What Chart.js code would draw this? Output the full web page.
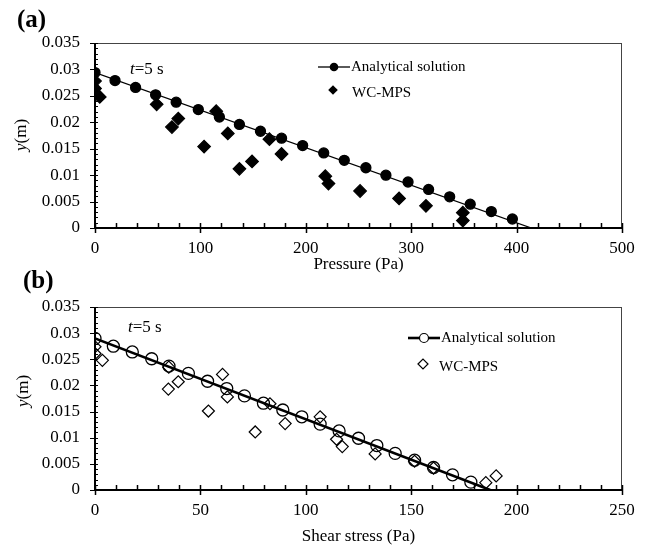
<!DOCTYPE html>
<html>
<head>
<meta charset="utf-8">
<script src="https://cdn.jsdelivr.net/npm/chart.js@4.4.1/dist/chart.umd.min.js"></script>
<style>
  body { margin: 0; background: #fff; }
  #wrap { position: relative; width: 646px; height: 549px; }
  canvas { position: absolute; left: 0; }
  #chartA { top: 0; }
  #chartB { top: 270px; }
</style>
</head>
<body>
<div id="wrap">
  <canvas id="chartA" width="646" height="290"></canvas>
  <canvas id="chartB" width="646" height="279"></canvas>
</div>
<script>
// ---- (a) presion ----
const presionAnaX = [0, 19, 38.5, 57.5, 77, 98, 118, 137, 157, 177, 197, 217, 236.5, 257, 276, 297, 316.5, 336.5, 356, 376, 396];
const presionAnaY = [0.0294, 0.0279, 0.0266, 0.0252, 0.0238, 0.0224, 0.0210, 0.0196, 0.0183, 0.0170, 0.0156, 0.0142, 0.0128, 0.0114, 0.0100, 0.0087, 0.0073, 0.0059, 0.0045, 0.0031, 0.0017];
const presionLineaX = [0, 414];
const presionLineaY = [0.0294, 0];
const presionMpsX = [0, 0, 4.5, 58.5, 73, 79, 103.5, 115, 126, 137, 149, 165.5, 177, 218.5, 221.5, 251.5, 288.5, 314, 349, 349];
const presionMpsY = [0.0278, 0.0264, 0.0248, 0.0234, 0.0191, 0.0207, 0.0154, 0.0221, 0.0179, 0.0112, 0.0126, 0.0168, 0.0140, 0.0098, 0.0084, 0.0070, 0.0056, 0.0042, 0.0029, 0.0014];
const presionTicks = ['0', '100', '200', '300', '400', '500'];

// ---- (b) esfuerzo cortante ----
const corteAnaX = [0, 8.7, 17.7, 26.9, 35.1, 44.3, 53.4, 62.5, 70.9, 79.9, 89.1, 98.1, 106.8, 115.8, 125, 133.7, 142.4, 151.6, 160.6, 169.6, 178.3];
const corteAnaY = [0.0290, 0.0275, 0.0264, 0.0251, 0.0237, 0.0223, 0.0208, 0.0194, 0.0180, 0.0166, 0.0153, 0.0140, 0.0126, 0.0113, 0.0099, 0.0085, 0.0070, 0.0057, 0.0043, 0.0029, 0.0015];
const corteLineaX = [0, 187.5];
const corteLineaY = [0.0290, 0];
const corteMpsX = [0, 0, 3.5, 35, 34.8, 39.5, 53.8, 60.5, 62.8, 76, 83, 90.2, 106.8, 114.6, 117.3, 132.9, 151.6, 160.6, 185.4, 190.3];
const corteMpsY = [0.0274, 0.0261, 0.0248, 0.0235, 0.0193, 0.0207, 0.0151, 0.0221, 0.0178, 0.0111, 0.0165, 0.0127, 0.0140, 0.0097, 0.0083, 0.0069, 0.0055, 0.0042, 0.0014, 0.0027];
const corteTicks = ['0', '50', '100', '150', '200', '250'];

const yTicks = ['0', '0.005', '0.01', '0.015', '0.02', '0.025', '0.03', '0.035'];

const FUENTE = "'Liberation Serif', 'DejaVu Serif', serif";

function puntos(xs, ys) {
    return xs.map((x, i) => ({ x: x, y: ys[i] }));
}

// marcos, marcas menores, leyenda y textos
const decor = {
    id: 'decor',
    afterDraw(chart, args, o) {
        const ctx = chart.ctx;
        const a = chart.chartArea;
        const sx = chart.scales.x, sy = chart.scales.y;
        ctx.save();
        ctx.strokeStyle = '#444';
        ctx.lineWidth = 1;
        ctx.strokeRect(a.left + 0.5, a.top + 0.5, a.right - a.left - 1, a.bottom - a.top);
        ctx.strokeStyle = '#000';
        ctx.lineWidth = 2;
        ctx.beginPath();
        ctx.moveTo(a.left, a.top);
        ctx.lineTo(a.left, a.bottom);
        ctx.lineTo(a.right, a.bottom);
        ctx.stroke();

        ctx.lineWidth = 1.5;
        ctx.beginPath();
        for (let v = 0; v <= sx.max + 0.001; v += o.xMenor) {
            const px = Math.round(sx.getPixelForValue(v)) + 0.5;
            const mayor = Math.abs(v % o.xMayor) < 0.001;
            ctx.moveTo(px, a.bottom + (mayor ? 5 : 0));
            ctx.lineTo(px, a.bottom - 5);
        }
        ctx.stroke();
        ctx.lineWidth = 1.2;
        ctx.beginPath();
        for (let i = 0; i <= 35; i++) {
            const py = Math.round(sy.getPixelForValue(i / 1000)) + 0.5;
            ctx.moveTo(a.left - (i % 5 === 0 ? 5 : 0), py);
            ctx.lineTo(a.left + 3, py);
        }
        ctx.stroke();

        ctx.fillStyle = '#000';
        ctx.textBaseline = 'middle';
        // etiqueta del panel
        ctx.font = 'bold 25px ' + FUENTE;
        ctx.fillText(o.panel, o.panelX, o.panelY);

        // t=5 s
        ctx.font = 'italic 17px ' + FUENTE;
        ctx.fillText('t', o.tX, o.tY);
        const wt = ctx.measureText('t').width;
        ctx.font = '17px ' + FUENTE;
        ctx.fillText('=5 s', o.tX + wt, o.tY);

        // titulo eje y
        ctx.save();
        ctx.translate(o.yTitX, o.yTitY);
        ctx.rotate(-Math.PI / 2);
        ctx.font = 'italic 17px ' + FUENTE;
        const wy = ctx.measureText('y').width;
        ctx.font = '17px ' + FUENTE;
        const wm = ctx.measureText('(m)').width;
        const x0 = -(wy + wm) / 2;
        ctx.font = 'italic 17px ' + FUENTE;
        ctx.fillText('y', x0, 0);
        ctx.font = '17px ' + FUENTE;
        ctx.fillText('(m)', x0 + wy, 0);
        ctx.restore();

        // leyenda
        const L = o.leyenda;
        ctx.strokeStyle = '#000';
        ctx.lineWidth = L.linea;
        ctx.beginPath();
        ctx.moveTo(L.x, L.y1);
        ctx.lineTo(L.x + 32, L.y1);
        ctx.stroke();
        ctx.lineWidth = L.borde;
        ctx.beginPath();
        ctx.arc(L.x + 16, L.y1, L.r, 0, Math.PI * 2);
        if (L.relleno) { ctx.fill(); } else { ctx.fillStyle = '#fff'; ctx.fill(); ctx.fillStyle = '#000'; ctx.stroke(); }
        ctx.beginPath();
        const dx = L.x + 15, dy = L.y2 - 3, dr = L.r + 0.5;
        ctx.moveTo(dx - dr, dy); ctx.lineTo(dx, dy - dr); ctx.lineTo(dx + dr, dy); ctx.lineTo(dx, dy + dr); ctx.closePath();
        if (L.relleno) { ctx.fill(); } else { ctx.stroke(); }
        ctx.font = '15px ' + FUENTE;
        ctx.fillText('Analytical solution', L.x + 33, L.y1);
        ctx.fillText('WC-MPS', L.x + L.tx2, L.y2);
        ctx.restore();
    }
};

function crearGrafico(id, cfg) {
    const ctx = document.getElementById(id).getContext('2d');
    return new Chart(ctx, {
        type: 'scatter',
        data: {
            datasets: [{
                label: 'linea',
                data: cfg.linea,
                showLine: true,
                borderColor: '#000',
                borderWidth: cfg.grosor,
                pointRadius: 0
            }, {
                label: 'Analytical solution',
                data: cfg.ana,
                pointStyle: 'circle',
                pointRadius: cfg.rCirc,
                pointBackgroundColor: cfg.relleno ? '#000' : 'rgba(0,0,0,0)',
                pointBorderColor: '#000',
                pointBorderWidth: 1.3
            }, {
                label: 'WC-MPS',
                data: cfg.mps,
                pointStyle: 'rectRot',
                pointRadius: cfg.rDiam,
                pointBackgroundColor: cfg.relleno ? '#000' : 'rgba(0,0,0,0)',
                pointBorderColor: '#000',
                pointBorderWidth: 1.2
            }]
        },
        options: {
            responsive: false,
            animation: false,
            devicePixelRatio: 1,
            layout: { padding: { top: cfg.arriba, right: 24, left: 0, bottom: 0 } },
            plugins: {
                legend: { display: false },
                tooltip: { enabled: false },
                decor: cfg.decor
            },
            scales: {
                x: {
                    type: 'linear',
                    min: 0,
                    max: cfg.xMax,
                    grid: { display: false, drawTicks: false },
                    border: { display: false },
                    ticks: {
                        stepSize: cfg.xPaso,
                        padding: 10,
                        color: '#000',
                        font: { family: FUENTE, size: 17 },
                        maxRotation: 0,
                        callback: (v, i) => cfg.xEtiquetas[i]
                    },
                    title: {
                        display: true,
                        text: cfg.xTitulo,
                        color: '#000',
                        font: { family: FUENTE, size: 17 },
                        padding: { top: 0, bottom: cfg.tituloPad }
                    },
                    afterFit: s => { s.height = cfg.altoX; }
                },
                y: {
                    min: 0,
                    max: 0.035,
                    grid: { display: false, drawTicks: false },
                    border: { display: false },
                    ticks: {
                        stepSize: 0.005,
                        padding: 15,
                        color: '#000',
                        font: { family: FUENTE, size: 17 },
                        callback: (v, i) => yTicks[i]
                    },
                    afterFit: s => { s.width = 95; }
                }
            }
        },
        plugins: [decor]
    });
}

crearGrafico('chartA', {
    linea: puntos(presionLineaX, presionLineaY),
    ana: puntos(presionAnaX, presionAnaY),
    mps: puntos(presionMpsX, presionMpsY),
    grosor: 1.3, rCirc: 5, rDiam: 6.3, relleno: true,
    arriba: 43, altoX: 62, tituloPad: 15,
    xMax: 500, xPaso: 100, xEtiquetas: presionTicks, xTitulo: 'Pressure (Pa)',
    decor: {
        xMenor: 20, xMayor: 100,
        panel: '(a)', panelX: 17, panelY: 21,
        tX: 130, tY: 70,
        yTitX: 22, yTitY: 135,
        leyenda: { x: 318, y1: 67, y2: 93, r: 4.3, linea: 1.3, borde: 1, relleno: true, tx2: 34 }
    }
});

crearGrafico('chartB', {
    linea: puntos(corteLineaX, corteLineaY),
    ana: puntos(corteAnaX, corteAnaY),
    mps: puntos(corteMpsX, corteMpsY),
    grosor: 2.6, rCirc: 6, rDiam: 6, relleno: false,
    arriba: 37, altoX: 59, tituloPad: 2,
    xMax: 250, xPaso: 50, xEtiquetas: corteTicks, xTitulo: 'Shear stress (Pa)',
    decor: {
        xMenor: 10, xMayor: 50,
        panel: '(b)', panelX: 23, panelY: 12,
        tX: 128, tY: 58,
        yTitX: 24, yTitY: 121,
        leyenda: { x: 408, y1: 68, y2: 97, r: 4.5, linea: 2.6, borde: 1.2, relleno: false, tx2: 31 }
    }
});
</script>
</body>
</html>
